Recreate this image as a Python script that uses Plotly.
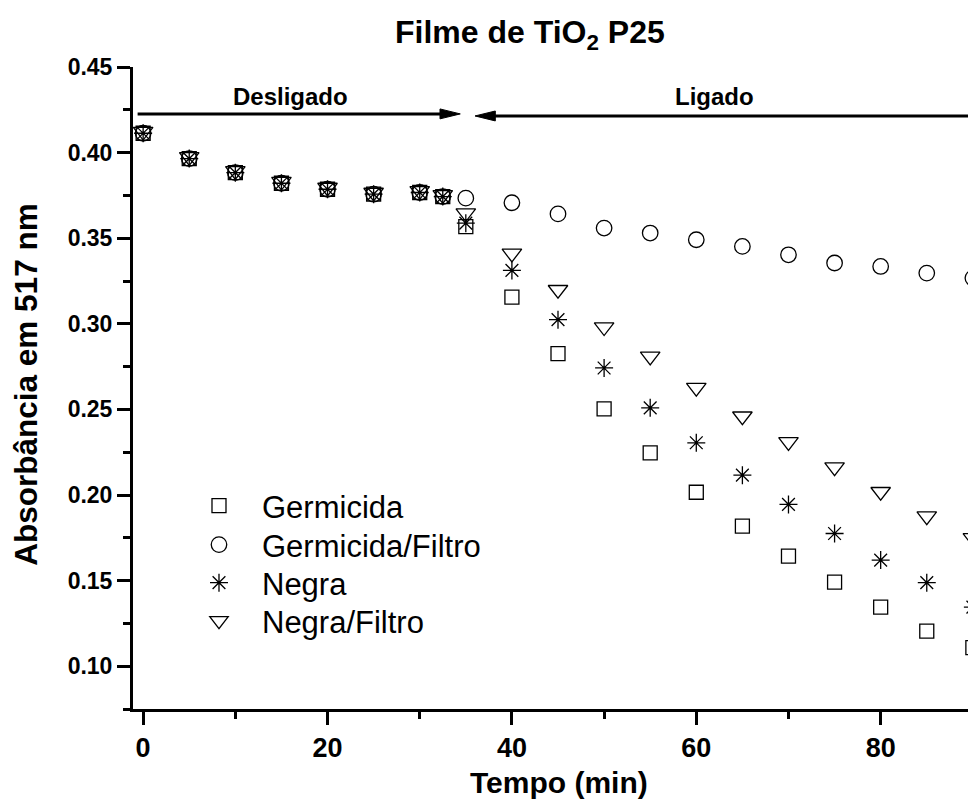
import plotly.graph_objects as go

# ---- data ----
tempo = [0, 5, 10, 15, 20, 25, 30, 32.5, 35, 40, 45, 50, 55, 60, 65, 70, 75, 80, 85, 90]
early = [0.4113, 0.3965, 0.3883, 0.3821, 0.3786, 0.3757, 0.3767, 0.3743]
germicida = early + [0.3568, 0.3156, 0.2826, 0.2503, 0.2246, 0.2016, 0.1818, 0.1643, 0.1491, 0.1345, 0.1205, 0.1108]
germicida_filtro = early + [0.3734, 0.3707, 0.3642, 0.3559, 0.3530, 0.3491, 0.3452, 0.3403, 0.3355, 0.3335, 0.3296, 0.3267]
negra = early + [0.3588, 0.3312, 0.3024, 0.2742, 0.2509, 0.2305, 0.2116, 0.1945, 0.1775, 0.1620, 0.1488, 0.1345]
negra_filtro = [v + 0.001 for v in early] + [0.3647, 0.3411, 0.3199, 0.2981, 0.2810, 0.2627, 0.2460, 0.2310, 0.2163, 0.2019, 0.1877, 0.1750]

series_names = ["Germicida", "Germicida/Filtro", "Negra", "Negra/Filtro"]
x_ticks = [0, 20, 40, 60, 80]
y_ticks = [0.10, 0.15, 0.20, 0.25, 0.30, 0.35, 0.40, 0.45]

# annotation arrows (data coordinates)
desligado_arrow = dict(x0=-0.6, x1=34.4, y=0.4226)
ligado_arrow = dict(x0=36.0, x1=100.0, y=0.4214)

FONT = "Liberation Sans, Arial, sans-serif"

fig = go.Figure()
symbols = ["square-open", "circle-open", "asterisk-open", "triangle-down-open"]
sizes = [14, 15.5, 15, 17]
legend_ids = ["legend", "legend2", "legend3", "legend4"]
for name, ys, sym, sz, lg in zip(series_names, [germicida, germicida_filtro, negra, negra_filtro], symbols, sizes, legend_ids):
    fig.add_trace(go.Scatter(
        x=tempo, y=ys, mode="markers", name=name, legend=lg,
        marker=dict(symbol=sym, size=sz, color="black", line=dict(color="black", width=1.3)),
    ))

axis_common = dict(
    showline=True, linecolor="black", linewidth=3, mirror=False,
    ticks="outside", tickcolor="black", tickwidth=3, ticklen=13,
    showgrid=False, zeroline=False,
)
fig.update_xaxes(
    range=[-1.1, 90.34], tickvals=x_ticks, ticktext=[str(t) for t in x_ticks],
    tickfont=dict(family=FONT, size=27, color="black", weight="bold"),
    minor=dict(dtick=10, tick0=0, ticks="outside", ticklen=7, tickwidth=3, tickcolor="black"),
    **axis_common,
)
fig.update_yaxes(
    range=[0.075, 0.45], tickvals=y_ticks, ticktext=[f"{t:.2f}" for t in y_ticks],
    tickfont=dict(family=FONT, size=23, color="black", weight="bold"),
    minor=dict(dtick=0.025, tick0=0.075, ticks="outside", ticklen=7, tickwidth=3, tickcolor="black"),
    **axis_common,
)

# arrows
for arr in (desligado_arrow,):
    fig.add_shape(type="line", xref="x", yref="y", x0=arr["x0"], x1=arr["x1"] - 1.6, y0=arr["y"], y1=arr["y"],
                  line=dict(color="black", width=3))
    fig.add_shape(type="path", xref="x", yref="y",
                  path=f"M {arr['x1']},{arr['y']} L {arr['x1'] - 2.2},{arr['y'] + 0.0029} L {arr['x1'] - 2.2},{arr['y'] - 0.0029} Z",
                  fillcolor="black", line=dict(color="black", width=1))
for arr in (ligado_arrow,):
    fig.add_shape(type="line", xref="x", yref="y", x0=arr["x0"] + 1.6, x1=arr["x1"], y0=arr["y"], y1=arr["y"],
                  line=dict(color="black", width=3))
    fig.add_shape(type="path", xref="x", yref="y",
                  path=f"M {arr['x0']},{arr['y']} L {arr['x0'] + 2.2},{arr['y'] + 0.0029} L {arr['x0'] + 2.2},{arr['y'] - 0.0029} Z",
                  fillcolor="black", line=dict(color="black", width=1))

bold = lambda s: dict(family=FONT, size=s, color="black", weight="bold")
fig.add_annotation(x=16.0, y=0.4325, xref="x", yref="y", text="Desligado", showarrow=False, font=bold(24))
fig.add_annotation(x=62.0, y=0.4325, xref="x", yref="y", text="Ligado", showarrow=False, font=bold(24))

# titles
fig.add_annotation(x=0.471, y=1.05, xref="paper", yref="paper", text="Filme de TiO<sub>2</sub> P25",
                   showarrow=False, font=bold(32), xanchor="center", yanchor="middle")
fig.add_annotation(x=0.505, y=-0.115, xref="paper", yref="paper", text="Tempo (min)",
                   showarrow=False, font=bold(30), xanchor="center", yanchor="middle")
fig.add_annotation(x=-0.127, y=0.505, xref="paper", yref="paper", text="Absorbância em 517 nm",
                   showarrow=False, font=bold(31.5), textangle=-90, xanchor="center", yanchor="middle")

legend_style = dict(x=0.051, xanchor="left", yanchor="middle",
                    font=dict(family=FONT, size=31, color="black"),
                    bgcolor="rgba(0,0,0,0)", itemwidth=76, tracegroupgap=0)
legend_rows = [0.3162, 0.2555, 0.1963, 0.1371]

# the page body has an 8px margin, so the figure is shifted accordingly
fig.update_layout(
    width=968, height=802,
    margin=dict(l=125, r=0, t=59, b=101),
    paper_bgcolor="white", plot_bgcolor="white",
    showlegend=True,
    legend=dict(y=legend_rows[0], **legend_style),
    legend2=dict(y=legend_rows[1], **legend_style),
    legend3=dict(y=legend_rows[2], **legend_style),
    legend4=dict(y=legend_rows[3], **legend_style),
)

fig.write_html("out.html")
